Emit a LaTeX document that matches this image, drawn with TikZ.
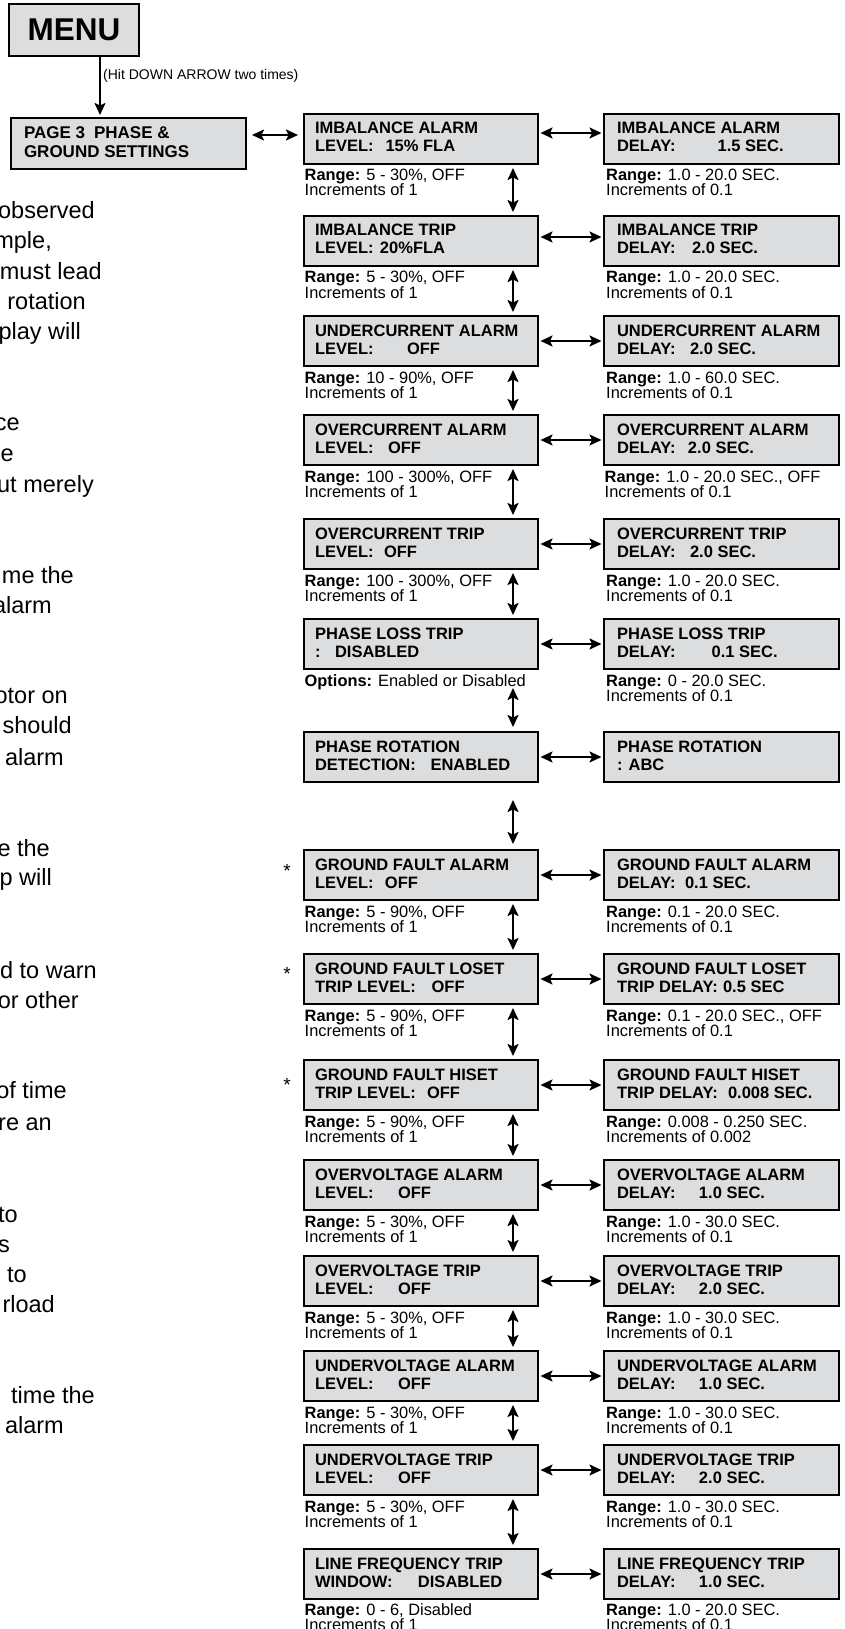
\documentclass[tikz,border=0pt]{standalone}
\usepackage{fontspec}
\setmainfont{Liberation Sans}
\usetikzlibrary{arrows.meta,calc}
\definecolor{boxgray}{RGB}{220,221,223}
\newcommand\twoline[4]{\hbox to #1{\vtop{\baselineskip=#2\lineskiplimit=-1000pt\hbox{#3}\hbox{#4}}\hfil}}
\newcommand\lvl[3]{\makebox[#1][l]{#2}#3}
\newcommand\rng[2]{\vtop{\baselineskip=15pt\lineskiplimit=-1000pt\hbox{\textbf{Range:} #1}\hbox{Increments of #2}}}
\newcommand\lb[2]{\twoline{212pt}{18pt}{#1}{#2}}
\newcommand\rb[2]{\twoline{209pt}{18pt}{#1}{#2}}
\tikzset{
  panel/.style={draw, line width=2pt, fill=boxgray, anchor=north west, inner ysep=0pt,
    text height=20pt, text depth=30pt, font=\fontsize{16.5}{18}\selectfont\bfseries},
  lpanel/.style={panel, inner xsep=11pt},
  rpanel/.style={panel, inner xsep=13pt},
  rangetext/.style={anchor=base west, inner sep=0pt, font=\fontsize{16.4}{15}\selectfont},
  frag/.style={anchor=base east, inner sep=0pt, font=\fontsize{23.5}{28}\selectfont},
  astx/.style={anchor=base, inner sep=0pt, font=\fontsize{19}{20}\selectfont},
  both/.style={{Stealth[length=12pt,width=11pt,inset=2.5pt]}-{Stealth[length=12pt,width=11pt,inset=2.5pt]}, line width=2pt},
  onearrow/.style={-{Stealth[length=12pt,width=11pt,inset=2.5pt]}, line width=2pt},
  hgap/.style={shorten <=1.5pt, shorten >=1.5pt},
}
\begin{document}
\begin{tikzpicture}[x=1pt,y=-1pt]
\useasboundingbox (0,0) rectangle (845,1629);

% top
\node[draw, line width=2pt, fill=boxgray, anchor=north west, minimum width=130pt, minimum height=52pt,
  inner sep=0pt, font=\fontsize{31.5}{34}\selectfont\bfseries] (menu) at (8,3) {MENU};
\node[draw, line width=2pt, fill=boxgray, anchor=north west, inner ysep=0pt, inner xsep=13pt,
  text height=21pt, text depth=30pt, font=\fontsize{17}{19}\selectfont\bfseries] (page3) at (10,117)
  {\twoline{209pt}{19pt}{PAGE 3\hspace{9pt}PHASE \&}{GROUND SETTINGS}};
\draw[onearrow] ($(menu.south west)+(92,0)$) -- ($(page3.north west)+(90,-2)$);
\node[anchor=base west, inner sep=0pt, font=\fontsize{14}{16}\selectfont] (hit) at (103,80) {(Hit DOWN ARROW two times)};

% left column panels
\node[lpanel] (ia)  at (303,113)  {\lb{IMBALANCE ALARM}{\lvl{70.5pt}{LEVEL:}{15\% FLA}}};
\node[lpanel] (it)  at (303,215)  {\lb{IMBALANCE TRIP}{\lvl{65pt}{LEVEL:}{20\%FLA}}};
\node[lpanel] (uca) at (303,315)  {\lb{UNDERCURRENT ALARM}{\lvl{92pt}{LEVEL:}{OFF}}};
\node[lpanel] (oca) at (303,414)  {\lb{OVERCURRENT ALARM}{\lvl{73pt}{LEVEL:}{OFF}}};
\node[lpanel] (oct) at (303,518)  {\lb{OVERCURRENT TRIP}{\lvl{69pt}{LEVEL:}{OFF}}};
\node[lpanel] (plt) at (303,618)  {\lb{PHASE LOSS TRIP}{\lvl{20pt}{:}{DISABLED}}};
\node[lpanel] (pr)  at (303,731)  {\lb{PHASE ROTATION}{\lvl{115.5pt}{DETECTION:}{ENABLED}}};
\node[lpanel] (gfa) at (303,849)  {\lb{GROUND FAULT ALARM}{\lvl{70pt}{LEVEL:}{OFF}}};
\node[lpanel] (gfl) at (303,953)  {\lb{GROUND FAULT LOSET}{\lvl{116.6pt}{TRIP LEVEL:}{OFF}}};
\node[lpanel] (gfh) at (303,1059) {\lb{GROUND FAULT HISET}{\lvl{112pt}{TRIP LEVEL:}{OFF}}};
\node[lpanel] (ova) at (303,1159) {\lb{OVERVOLTAGE ALARM}{\lvl{83pt}{LEVEL:}{OFF}}};
\node[lpanel] (ovt) at (303,1255) {\lb{OVERVOLTAGE TRIP}{\lvl{83pt}{LEVEL:}{OFF}}};
\node[lpanel] (uva) at (303,1350) {\lb{UNDERVOLTAGE ALARM}{\lvl{83pt}{LEVEL:}{OFF}}};
\node[lpanel] (uvt) at (303,1444) {\lb{UNDERVOLTAGE TRIP}{\lvl{83pt}{LEVEL:}{OFF}}};
\node[lpanel] (lf)  at (303,1548) {\lb{LINE FREQUENCY TRIP}{\lvl{103pt}{WINDOW:}{DISABLED}}};

% right column panels
\node[rpanel] (iar)  at (603,113)  {\rb{IMBALANCE ALARM}{\lvl{100.7pt}{DELAY:}{1.5 SEC.}}};
\node[rpanel] (itr)  at (603,215)  {\rb{IMBALANCE TRIP}{\lvl{75pt}{DELAY:}{2.0 SEC.}}};
\node[rpanel] (ucar) at (603,315)  {\rb{UNDERCURRENT ALARM}{\lvl{73pt}{DELAY:}{2.0 SEC.}}};
\node[rpanel] (ocar) at (603,414)  {\rb{OVERCURRENT ALARM}{\lvl{71pt}{DELAY:}{2.0 SEC.}}};
\node[rpanel] (octr) at (603,518)  {\rb{OVERCURRENT TRIP}{\lvl{73pt}{DELAY:}{2.0 SEC.}}};
\node[rpanel] (pltr) at (603,618)  {\rb{PHASE LOSS TRIP}{\lvl{94.6pt}{DELAY:}{0.1 SEC.}}};
\node[rpanel] (prr)  at (603,731)  {\rb{PHASE ROTATION}{: ABC}};
\node[rpanel] (gfar) at (603,849)  {\rb{GROUND FAULT ALARM}{\lvl{68pt}{DELAY:}{0.1 SEC.}}};
\node[rpanel] (gflr) at (603,953)  {\rb{GROUND FAULT LOSET}{\lvl{106pt}{TRIP DELAY:}{0.5 SEC}}};
\node[rpanel] (gfhr) at (603,1059) {\rb{GROUND FAULT HISET}{\lvl{111pt}{TRIP DELAY:}{0.008 SEC.}}};
\node[rpanel] (ovar) at (603,1159) {\rb{OVERVOLTAGE ALARM}{\lvl{82pt}{DELAY:}{1.0 SEC.}}};
\node[rpanel] (ovtr) at (603,1255) {\rb{OVERVOLTAGE TRIP}{\lvl{82pt}{DELAY:}{2.0 SEC.}}};
\node[rpanel] (uvar) at (603,1350) {\rb{UNDERVOLTAGE ALARM}{\lvl{82pt}{DELAY:}{1.0 SEC.}}};
\node[rpanel] (uvtr) at (603,1444) {\rb{UNDERVOLTAGE TRIP}{\lvl{82pt}{DELAY:}{2.0 SEC.}}};
\node[rpanel] (lfr)  at (603,1548) {\rb{LINE FREQUENCY TRIP}{\lvl{82pt}{DELAY:}{1.0 SEC.}}};

% range texts, left
\node[rangetext] (ian)  at ($(ia.south west)+(1.5,16)$)  {\rng{5 - 30\%, OFF}{1}};
\node[rangetext] (itn)  at ($(it.south west)+(1.5,16)$)  {\rng{5 - 30\%, OFF}{1}};
\node[rangetext] (ucan) at ($(uca.south west)+(1.5,16)$) {\rng{10 - 90\%, OFF}{1}};
\node[rangetext] (ocan) at ($(oca.south west)+(1.5,16)$) {\rng{100 - 300\%, OFF}{1}};
\node[rangetext] (octn) at ($(oct.south west)+(1.5,16)$) {\rng{100 - 300\%, OFF}{1}};
\node[rangetext] (pltn) at ($(plt.south west)+(1.5,16)$) {\textbf{Options:} Enabled or Disabled};
\node[rangetext] (gfan) at ($(gfa.south west)+(1.5,16)$) {\rng{5 - 90\%, OFF}{1}};
\node[rangetext] (gfln) at ($(gfl.south west)+(1.5,16)$) {\rng{5 - 90\%, OFF}{1}};
\node[rangetext] (gfhn) at ($(gfh.south west)+(1.5,16)$) {\rng{5 - 90\%, OFF}{1}};
\node[rangetext] (ovan) at ($(ova.south west)+(1.5,16)$) {\rng{5 - 30\%, OFF}{1}};
\node[rangetext] (ovtn) at ($(ovt.south west)+(1.5,16)$) {\rng{5 - 30\%, OFF}{1}};
\node[rangetext] (uvan) at ($(uva.south west)+(1.5,16)$) {\rng{5 - 30\%, OFF}{1}};
\node[rangetext] (uvtn) at ($(uvt.south west)+(1.5,16)$) {\rng{5 - 30\%, OFF}{1}};
\node[rangetext] (lfn)  at ($(lf.south west)+(1.5,15)$)  {\rng{0 - 6, Disabled}{1}};

% range texts, right
\node[rangetext] (iarn)  at ($(iar.south west)+(3,16)$)  {\rng{1.0 - 20.0 SEC.}{0.1}};
\node[rangetext] (itrn)  at ($(itr.south west)+(3,16)$)  {\rng{1.0 - 20.0 SEC.}{0.1}};
\node[rangetext] (ucarn) at ($(ucar.south west)+(3,16)$) {\rng{1.0 - 60.0 SEC.}{0.1}};
\node[rangetext] (ocarn) at ($(ocar.south west)+(1.5,16)$) {\rng{1.0 - 20.0 SEC., OFF}{0.1}};
\node[rangetext] (octrn) at ($(octr.south west)+(3,16)$) {\rng{1.0 - 20.0 SEC.}{0.1}};
\node[rangetext] (pltrn) at ($(pltr.south west)+(3,16)$) {\rng{0 - 20.0 SEC.}{0.1}};
\node[rangetext] (gfarn) at ($(gfar.south west)+(3,16)$) {\rng{0.1 - 20.0 SEC.}{0.1}};
\node[rangetext] (gflrn) at ($(gflr.south west)+(3,16)$) {\rng{0.1 - 20.0 SEC., OFF}{0.1}};
\node[rangetext] (gfhrn) at ($(gfhr.south west)+(3,16)$) {\rng{0.008 - 0.250 SEC.}{0.002}};
\node[rangetext] (ovarn) at ($(ovar.south west)+(3,16)$) {\rng{1.0 - 30.0 SEC.}{0.1}};
\node[rangetext] (ovtrn) at ($(ovtr.south west)+(3,16)$) {\rng{1.0 - 30.0 SEC.}{0.1}};
\node[rangetext] (uvarn) at ($(uvar.south west)+(3,16)$) {\rng{1.0 - 30.0 SEC.}{0.1}};
\node[rangetext] (uvtrn) at ($(uvtr.south west)+(3,16)$) {\rng{1.0 - 30.0 SEC.}{0.1}};
\node[rangetext] (lfrn)  at ($(lfr.south west)+(3,15)$)  {\rng{1.0 - 20.0 SEC.}{0.1}};

% horizontal connectors
\draw[both] ($(page3.north east)+(5,18)$) -- ($(ia.north west)+(-5,22)$);
\draw[both, hgap] ($(ia.north east)+(0,20)$) -- ($(iar.north west)+(0,20)$);
\draw[both, hgap] ($(it.north east)+(0,22)$) -- ($(itr.north west)+(0,22)$);
\foreach \a in {uca,oca,oct,plt,pr,gfa,gfl,gfh,ova,ovt,uva,uvt,lf}
  \draw[both, hgap] (\a.east) -- (\a r.west);

% vertical connectors
\foreach \a/\b in {ia/it,it/uca,uca/oca,oca/oct,oct/plt,gfa/gfl,gfl/gfh,gfh/ova,ova/ovt,ovt/uva,uva/uvt,uvt/lf}
  \draw[both] ($(\a.south west)+(210,3)$) -- ($(\b.north west)+(210,-3)$);
\draw[both] ($(plt.south west)+(210,18)$) -- ($(pr.north west)+(210,-4)$);
\draw[both] ($(pr.south west)+(210,17)$) -- ($(gfa.north west)+(210,-5)$);

% asterisks
\node[astx] (s1) at (287,877) {*};
\node[astx] (s2) at (287,980) {*};
\node[astx] (s3) at (287,1091) {*};

% cropped text fragments at the left edge
\node[frag] (f1)  at (95,219)   {observed};
\node[frag] (f2)  at (52,248)   {mple,};
\node[frag] (f3)  at (102,279)  {must lead};
\node[frag] (f4)  at (86,309)   {rotation};
\node[frag] (f5)  at (81,339)   {play will};
\node[frag] (f6)  at (20,430)   {ce};
\node[frag] (f7)  at (14,461)   {e};
\node[frag] (f8)  at (94,492)   {ut merely};
\node[frag] (f9)  at (74,583)   {me the};
\node[frag] (f10) at (52,613)   {alarm};
\node[frag] (f11) at (68,703)   {otor on};
\node[frag] (f12) at (72,733)   {should};
\node[frag] (f13) at (64,765)   {alarm};
\node[frag] (f14) at (50,856)   {e the};
\node[frag] (f15) at (52,885)   {p will};
\node[frag] (f16) at (97,978)   {d to warn};
\node[frag] (f17) at (79,1008)  {or other};
\node[frag] (f18) at (67,1098)  {of time};
\node[frag] (f19) at (52,1130)  {re an};
\node[frag] (f20) at (18,1222)  {to};
\node[frag] (f21) at (10,1252)  {s};
\node[frag] (f22) at (27,1282)  {to};
\node[frag] (f23) at (55,1312)  {rload};
\node[frag] (f24) at (95,1403)  {time the};
\node[frag] (f25) at (64,1433)  {alarm};
\end{tikzpicture}
\end{document}
